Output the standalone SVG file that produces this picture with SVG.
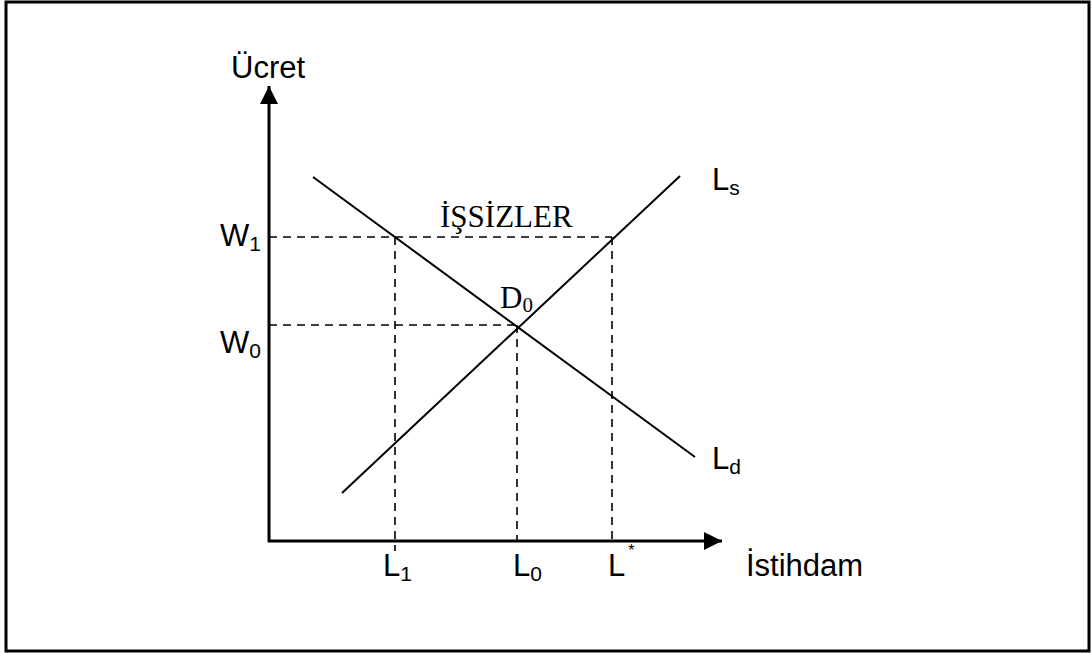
<svg xmlns="http://www.w3.org/2000/svg" width="1092" height="653" viewBox="0 0 1092 653">
<style>
.s{font-family:"Liberation Sans",Arial,sans-serif;font-size:31px;fill:#000}
.sub{font-size:21px}
.r{font-family:"Liberation Serif","Times New Roman",serif;font-size:31px;fill:#000}
.ax{stroke:#000;stroke-width:3;fill:none}
.ln{stroke:#000;stroke-width:2;fill:none}
.d{stroke:#000;stroke-width:1.6;stroke-dasharray:8,6;fill:none}
</style>
<defs>
<marker id="ah" viewBox="0 0 10 10" refX="10" refY="5" markerWidth="6" markerHeight="6" markerUnits="strokeWidth" orient="auto">
<path d="M0,0 L10,5 L0,10 z" fill="#000"/>
</marker>
</defs>
<rect x="6" y="2" width="1083" height="649" fill="#fff" stroke="#000" stroke-width="3"/>
<g id="connectors">
<line class="ax" x1="269" y1="542" x2="269" y2="86" marker-end="url(#ah)"/>
<line class="ax" x1="268" y1="541" x2="722" y2="541" marker-end="url(#ah)"/>
<line class="d" x1="269" y1="237" x2="612" y2="237"/>
<line class="d" x1="269" y1="325" x2="517" y2="325"/>
<line class="d" x1="395" y1="237" x2="395" y2="551"/>
<line class="d" x1="517" y1="325" x2="517" y2="541"/>
<line class="d" x1="612" y1="237" x2="612" y2="541"/>
<line class="ln" x1="313" y1="177" x2="695" y2="457"/>
<line class="ln" x1="342" y1="493" x2="680" y2="176"/>
</g>
<g id="labels">
<text class="s" x="231" y="78">Ücret</text>
<text class="s" x="220" y="246">W<tspan class="sub" dy="5">1</tspan></text>
<text class="s" x="220" y="353">W<tspan class="sub" dy="5">0</tspan></text>
<text class="r" x="440" y="227">İŞSİZLER</text>
<text class="r" x="500" y="308">D<tspan class="sub" dy="4">0</tspan></text>
<text class="s" x="712" y="190">L<tspan class="sub" dy="5">s</tspan></text>
<text class="s" x="712" y="469">L<tspan class="sub" dy="5">d</tspan></text>
<text class="s" x="383" y="576">L<tspan class="sub" dy="5">1</tspan></text>
<text class="s" x="513" y="576">L<tspan class="sub" dy="5">0</tspan></text>
<text class="s" x="608" y="576">L<tspan font-size="16" dx="3" dy="-20">*</tspan></text>
<text class="s" x="746" y="576">İstihdam</text>
</g>
</svg>
